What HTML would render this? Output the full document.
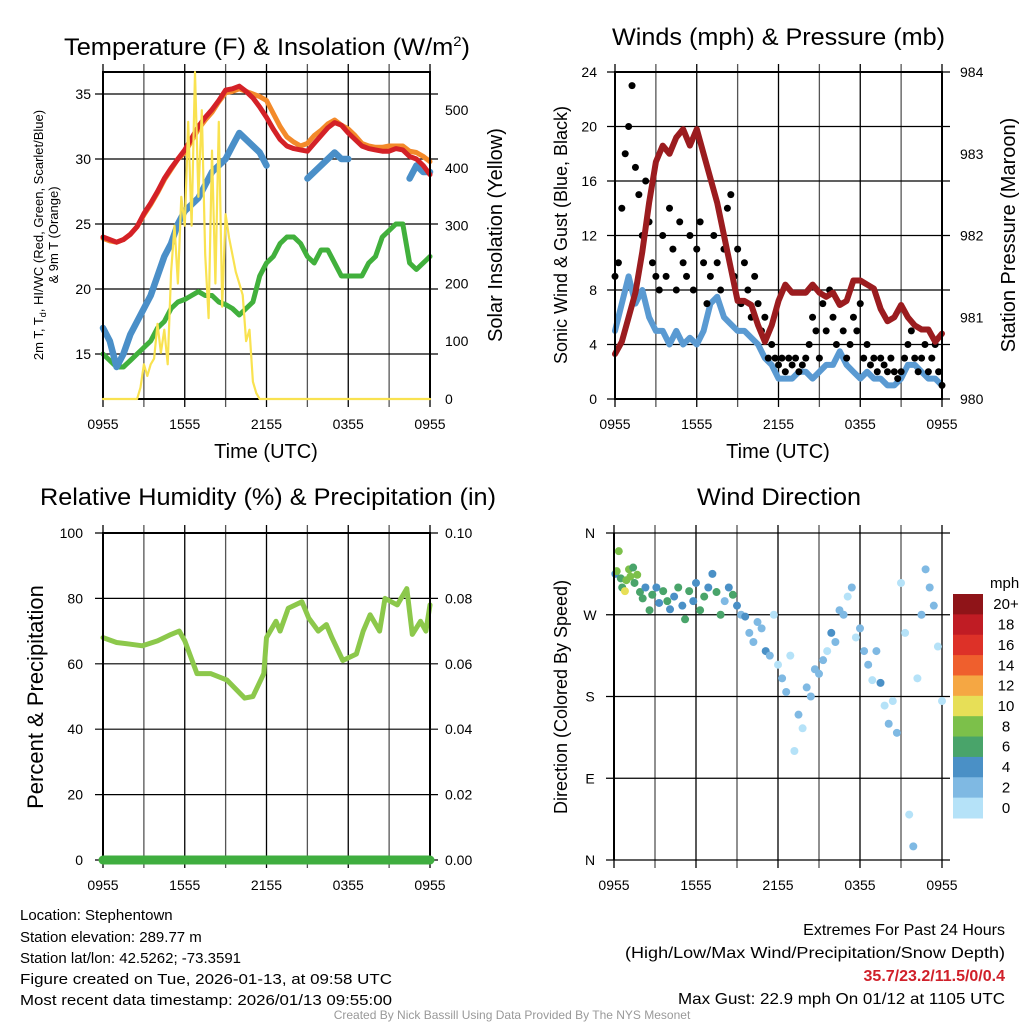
<!DOCTYPE html>
<html><head><meta charset="utf-8"><style>
html,body{margin:0;padding:0;background:#fff;}
svg{display:block;font-family:"Liberation Sans",sans-serif;}
</style></head><body>
<svg id="fig" width="1024" height="1024" viewBox="0 0 1024 1024" xmlns="http://www.w3.org/2000/svg">
<rect width="1024" height="1024" fill="#fff"/>
<g id="p1"></g>
<g id="p2"></g>
<g id="p3"></g>
<g id="p4"></g>
<g font-size="24">
<text x="64" y="55" textLength="406" lengthAdjust="spacingAndGlyphs">Temperature (F) &amp; Insolation (W/m<tspan dy="-9" font-size="14">2</tspan><tspan dy="9">)</tspan></text>
<text x="612" y="45" textLength="333" lengthAdjust="spacingAndGlyphs">Winds (mph) &amp; Pressure (mb)</text>
<text x="268" y="505" text-anchor="middle" textLength="456" lengthAdjust="spacingAndGlyphs">Relative Humidity (%) &amp; Precipitation (in)</text>
<text x="779" y="505" text-anchor="middle" textLength="164" lengthAdjust="spacingAndGlyphs">Wind Direction</text>
</g>
<g font-size="20">
<text x="266" y="458" text-anchor="middle">Time (UTC)</text>
<text x="778" y="458" text-anchor="middle">Time (UTC)</text>
<text transform="translate(43,235) rotate(-90)" text-anchor="middle" font-size="13">2m T, T<tspan dy="3" font-size="9">d</tspan><tspan dy="-3">, HI/WC (Red, Green, Scarlet/Blue)</tspan></text>
<text transform="translate(58,235) rotate(-90)" text-anchor="middle" font-size="13">&amp; 9m T (Orange)</text>
<text transform="translate(502,235) rotate(-90)" text-anchor="middle">Solar Insolation (Yellow)</text>
<text transform="translate(567,235) rotate(-90)" text-anchor="middle" font-size="18">Sonic Wind &amp; Gust (Blue, Black)</text>
<text transform="translate(1015,235) rotate(-90)" text-anchor="middle">Station Pressure (Maroon)</text>
<text transform="translate(43,697) rotate(-90)" text-anchor="middle" font-size="22">Percent &amp; Precipitation</text>
<text transform="translate(567,697) rotate(-90)" text-anchor="middle" font-size="18">Direction (Colored By Speed)</text>
</g>
<g font-size="15">
<text x="20" y="920">Location: Stephentown</text>
<text x="20" y="942">Station elevation: 289.77 m</text>
<text x="20" y="963">Station lat/lon: 42.5262; -73.3591</text>
<text x="20" y="984" textLength="372" lengthAdjust="spacingAndGlyphs">Figure created on Tue, 2026-01-13, at 09:58 UTC</text>
<text x="20" y="1005" textLength="372" lengthAdjust="spacingAndGlyphs">Most recent data timestamp: 2026/01/13 09:55:00</text>
</g>
<g font-size="16" text-anchor="end">
<text x="1005" y="935">Extremes For Past 24 Hours</text>
<text x="1005" y="958" textLength="380" lengthAdjust="spacingAndGlyphs">(High/Low/Max Wind/Precipitation/Snow Depth)</text>
<text x="1005" y="981" fill="#d0202a" font-weight="bold">35.7/23.2/11.5/0/0.4</text>
<text x="1005" y="1004" textLength="327" lengthAdjust="spacingAndGlyphs">Max Gust: 22.9 mph On 01/12 at 1105 UTC</text>
</g>
<text x="512" y="1019" text-anchor="middle" font-size="12" fill="#999">Created By Nick Bassill Using Data Provided By The NYS Mesonet</text>
</svg>
<script>
// ---- data (half-hourly series: index i -> hour i/2 after 0955 UTC) ----
const xTickLabels = ["0955","1555","2155","0355","0955"];
const tempRed = [24,23.8,23.6,23.8,24.2,24.8,25.8,26.6,27.5,28.5,29.3,30,30.7,31.6,32.5,33.2,33.8,34.5,35.3,35.4,35.6,35.2,34.7,34,33.2,32.3,31.5,31,30.8,30.7,30.6,31.2,31.8,32.4,32.8,32.6,32,31.5,31,30.8,30.7,30.6,30.6,30.8,30.7,30.2,30,29.5,28.8];
const temp9m = [23.9,23.7,23.6,23.8,24.2,24.8,25.7,26.5,27.4,28.4,29.2,30,30.5,31.4,32.3,33,33.6,34.4,35.1,35.2,35.4,35.2,35,34.8,34.5,33.5,32.5,31.7,31.3,31,31.2,31.8,32.2,32.7,33,32.6,32.3,31.8,31.2,31,30.9,30.9,31,31,31,30.6,30.5,30.2,29.8];
const windChill = [17,16,14,15,16.5,17.5,18.5,19.5,21,22.5,23.5,25,26,26.5,27,28,29,29.5,30,31,32,31.5,31,30.5,29.5,null,null,null,null,null,28.5,29,29.5,30,30.5,30,30,null,null,null,null,null,null,null,null,28.5,29.5,29,29];
const dewPoint = [15,14.5,14,14,14.5,15,15.5,16,17,17.5,18.5,19,19.2,19.5,19.8,19.5,19.5,19,18.8,18.5,18,18.5,19,21,22,22.5,23.5,24,24,23.5,22.5,22,23,23,22,21,21,21,21,22,22.5,24,24.5,25,25,22,21.5,22,22.5];
const solarHours = [0,2.5,2.75,3,3.25,3.5,3.75,4,4.25,4.5,4.75,5,5.25,5.5,5.75,6,6.25,6.5,6.75,7,7.25,7.5,7.75,8,8.25,8.5,8.75,9,9.25,9.5,9.75,10,10.25,10.5,10.75,11,11.25,11.5,24];
const solarValues = [0,0,20,60,40,60,70,130,80,120,60,220,300,200,350,300,480,300,566,350,500,250,140,430,200,480,160,320,280,250,220,200,180,100,120,30,10,0,0];
const windSpeed = [5,7,9,7,8,6,5,5,4,5,4,4.5,4,5,7,7.5,6,5.5,5,5,4.5,4,3,2.5,1.5,1.5,1.5,2,2,1.5,2,2.5,2.5,3.5,2.5,2,1.5,2,1.5,1.5,1,1,1.5,2.5,2.5,2,1.5,1.5,1];
const pressure = [980.55,980.7,981.0,981.3,981.8,982.4,982.9,983.1,983.0,983.2,983.3,983.1,983.3,983.0,982.7,982.4,982.0,981.6,981.2,981.2,981.15,980.9,980.7,980.9,981.2,981.4,981.3,981.3,981.3,981.4,981.3,981.25,981.3,981.15,981.2,981.45,981.45,981.4,981.35,981.1,980.95,981.0,981.15,981.0,980.9,980.85,980.85,980.7,980.8];
const gusts = [9,10,14,18,20,23,17,15,12,16,13,10,9,8,12,9,14,11,8,13,10,9,12,8,11,13,10,7,9,12,10,8,11,14,15,9,11,7,10,8,6,9,7,5,6,3,4,3,2.5,3,2,3,2.5,3,2,2.5,3,4,6,5,3,7,5,8,6,4,7,5,3,4,6,5,7,3,4,2.5,3,2,3,2.5,2,3,2,1.5,2,3,4,5,3,2,3,4,2,3,4,2,1];
const rhHours = [0,1,2,2.9,4,5,5.6,6,6.9,7.9,9.1,10.4,11,11.8,12,12.7,13,13.6,14.6,15.1,15.8,16.4,16.8,17.6,18.6,19.1,19.6,20.3,20.7,21.6,22.3,22.7,23.3,23.7,24];
const rhValues = [68,66.5,66,65.5,67,69,70,67,57,57,55,49.5,50,57,68,73,70,77,79,74,70,72,68,61,63,70,75,70,80,78,83,69,73,70,78];
const precip = [0,0];
const dirHours = [0.1,0.2,0.35,0.5,0.6,0.8,0.9,1.1,1.2,1.4,1.5,1.7,1.9,2.1,2.3,2.6,2.8,3.1,3.3,3.6,3.9,4.1,4.4,4.7,5,5.2,5.5,5.8,6,6.3,6.6,6.9,7.2,7.5,7.8,8.1,8.4,8.7,9,9.3,9.6,9.9,10.2,10.5,10.8,11.1,11.4,11.7,12,12.3,12.6,12.9,13.2,13.5,13.8,14.1,14.4,14.7,15,15.3,15.6,15.9,16.2,16.5,16.8,17.1,17.4,17.7,18,18.3,18.6,18.9,19.2,19.5,19.8,20.1,20.4,20.7,21,21.3,21.6,21.9,22.2,22.5,22.8,23.1,23.4,23.7,24];
const dirDeg = [315,318,340,310,300,296,308,320,312,322,305,314,295,288,300,275,292,300,283,296,285,276,290,300,280,265,296,285,305,275,290,300,315,295,270,285,300,292,280,270,268,250,240,262,255,230,225,270,215,200,185,225,120,160,145,190,180,210,205,220,230,250,240,275,270,290,300,245,255,230,215,198,230,195,170,150,175,140,305,250,50,15,200,270,320,300,280,235,175];
const dirSpd = [5,8,9,6,7,11,9,8,9,7,6,8,7,6,5,7,6,4,5,6,7,5,4,6,5,7,6,5,4,6,7,5,4,6,7,3,5,6,4,3,4,2,3,3,2,4,2,1,0,2,3,1,0,2,1,3,2,2,3,2,1,4,3,2,3,1,2,0,3,2,2,1,2,4,1,2,1,2,0,1,0,2,1,2,3,2,2,1,1];
const speedBinLabels = ["20+","18","16","14","12","10","8","6","4","2","0"];
const speedBinColors = ["#8f1418","#c01c24","#dd3128","#ef5f2d","#f5a743","#e7df57","#7cc04a","#49a46a","#4a90c6","#7fb9e3","#b5e2f8"];

const NS="http://www.w3.org/2000/svg";
function mk(tag,parent,attrs){const e=document.createElementNS(NS,tag);for(const k in attrs)e.setAttribute(k,attrs[k]);parent.appendChild(e);return e;}

function frame(g,x0,x1,y0,y1,name){
  for(let h=0;h<=24;h+=3){
    const x=x0+(x1-x0)*h/24;
    const l=mk('line',g,{x1:x,x2:x,y1:y0-8,y2:y1+8,stroke:h%6==0?'#000':'#555','stroke-width':1.3});
    
    
  }
  xTickLabels.forEach((s,i)=>{
    const t=mk('text',g,{x:x0+(x1-x0)*i/4,y:y1+30,'text-anchor':'middle','font-size':14});
    t.textContent=s;
    
    
  });
}
function hgrid(g,x0,x1,y,name){
  const l=mk('line',g,{x1:x0-8,x2:x1+8,y1:y,y2:y,stroke:'#000','stroke-width':1.2});
  
  
}
function label(g,x,y,s,anchor,name){
  const t=mk('text',g,{x:x,y:y+5,'text-anchor':anchor,'font-size':14});
  t.textContent=s;
  
  
}
function pathFrom(xs,ys){
  let d='',pen=false;
  for(let i=0;i<xs.length;i++){
    if(ys[i]==null){pen=false;continue;}
    d+=(pen?'L':'M')+xs[i].toFixed(1)+' '+ys[i].toFixed(1);pen=true;
  }
  return d;
}
function series(g,vals,xf,yf,color,w,name){
  const xs=vals.map((v,i)=>xf(i*24/(vals.length-1)));
  const ys=vals.map(v=>v==null?null:yf(v));
  const p=mk('path',g,{d:pathFrom(xs,ys),fill:'none',stroke:color,'stroke-width':w,'stroke-linejoin':'round','stroke-linecap':'round'});
  
  
}
function seriesXY(g,hrs,vals,xf,yf,color,w,name){
  const p=mk('path',g,{d:pathFrom(hrs.map(xf),vals.map(yf)),fill:'none',stroke:color,'stroke-width':w,'stroke-linejoin':'round','stroke-linecap':'round'});
  
  
}
function border(g,x0,x1,y0,y1,name){
  const r=mk('rect',g,{x:x0,y:y0,width:x1-x0,height:y1-y0,fill:'none',stroke:'#000','stroke-width':2});
  
  
}

// ---- panel 1 ----
(function(){
  const g=document.getElementById('p1');
  const x0=103,x1=430,y0=72,y1=399;
  const X=h=>x0+(x1-x0)*h/24;
  const Y=v=>354-(v-15)*13;
  const YS=v=>399-v*0.5776;
  frame(g,x0,x1,y0,y1,'p1');
  [15,20,25,30,35].forEach(v=>{hgrid(g,x0,x1,Y(v),'p1-hgrid');label(g,x0-12,Y(v),String(v),'end','p1-y-tick-label');});
  [0,100,200,300,400,500].forEach(v=>label(g,x1+15,YS(v),String(v),'start','p1-right-tick-label'));
  series(g,dewPoint,X,Y,'#41b03c',5,'dewpoint-line');
  series(g,windChill,X,Y,'#4a8fc8',6.5,'windchill-line');
  series(g,temp9m,X,Y,'#f38a2a',5,'temp-9m-line');
  series(g,tempRed,X,Y,'#d42127',5,'temp-2m-line');
  border(g,x0,x1,y0,y1,'p1-frame');
  seriesXY(g,solarHours,solarValues,X,YS,'#f9e250',2.2,'solar-line');
})();

// ---- panel 2 ----
(function(){
  const g=document.getElementById('p2');
  const x0=615,x1=942,y0=72,y1=399;
  const X=h=>x0+(x1-x0)*h/24;
  const Y=v=>y1-v*13.625;
  const YP=p=>y1-(p-980)*81.75;
  frame(g,x0,x1,y0,y1,'p2');
  [0,4,8,12,16,20,24].forEach(v=>{hgrid(g,x0,x1,Y(v),'p2-hgrid');label(g,x0-18,Y(v),String(v),'end','p2-y-tick-label');});
  [980,981,982,983,984].forEach(v=>label(g,x1+18,YP(v),String(v),'start','p2-right-tick-label'));
  series(g,windSpeed,X,Y,'#5a9ad2',6,'wind-speed-line');
  gusts.forEach((v,i)=>{
    const c=mk('circle',g,{cx:X(i*24/(gusts.length-1)),cy:Y(v),r:3.5,fill:'#000'});
    
    
  });
  series(g,pressure,X,YP,'#9b1c1f',6,'pressure-line');
  border(g,x0,x1,y0,y1,'p2-frame');
})();

// ---- panel 3 ----
(function(){
  const g=document.getElementById('p3');
  const x0=103,x1=430,y0=533,y1=860;
  const X=h=>x0+(x1-x0)*h/24;
  const Y=v=>y1-v*3.27;
  const YR=v=>y1-v*3270;
  frame(g,x0,x1,y0,y1,'p3');
  [0,20,40,60,80,100].forEach(v=>{hgrid(g,x0,x1,Y(v),'p3-hgrid');label(g,x0-20,Y(v),String(v),'end','p3-y-tick-label');});
  [0,0.02,0.04,0.06,0.08,0.10].forEach(v=>label(g,x1+15,YR(v),v.toFixed(2),'start','p3-right-tick-label'));
  seriesXY(g,rhHours,rhValues,X,Y,'#8cc84b',5,'humidity-line');
  border(g,x0,x1,y0,y1,'p3-frame');
  series(g,precip,X,YR,'#3fae3f',9,'precip-line');
})();

// ---- panel 4 ----
(function(){
  const g=document.getElementById('p4');
  const x0=614,x1=942,y0=533,y1=860;
  const X=h=>x0+(x1-x0)*h/24;
  const Y=d=>y1-d*(y1-y0)/360;
  frame(g,x0,x1,y0,y1,'p4');
  ["N","E","S","W","N"].forEach((s,i)=>{hgrid(g,x0,x1,Y(i*90),'p4-hgrid');label(g,x0-24,Y(i*90),s,'middle','p4-y-tick-label');});
  dirHours.forEach((h,i)=>{
    const bin=Math.min(10,Math.floor(dirSpd[i]/2));
    const c=mk('circle',g,{cx:X(h),cy:Y(dirDeg[i]),r:4,fill:speedBinColors[10-bin]});
    
    
  });
  const l=mk('line',g,{x1:x0,x2:x0,y1:y0,y2:y1,stroke:'#000','stroke-width':2});
  
  
  const lg=mk('g',g,{});
  
  
  const t=mk('text',lg,{x:990,y:588,'font-size':15});
  t.textContent='mph';
  
  
  const bh=(818-594)/11;
  speedBinLabels.forEach((s,i)=>{
    const r=mk('rect',lg,{x:953,y:594+i*bh,width:30,height:bh+0.5,fill:speedBinColors[i]});
    
    
    const tt=mk('text',lg,{x:1006,y:594+i*bh+bh/2+5,'text-anchor':'middle','font-size':15});
    tt.textContent=s;
    
    
  });
})();
</script>
</body></html>
